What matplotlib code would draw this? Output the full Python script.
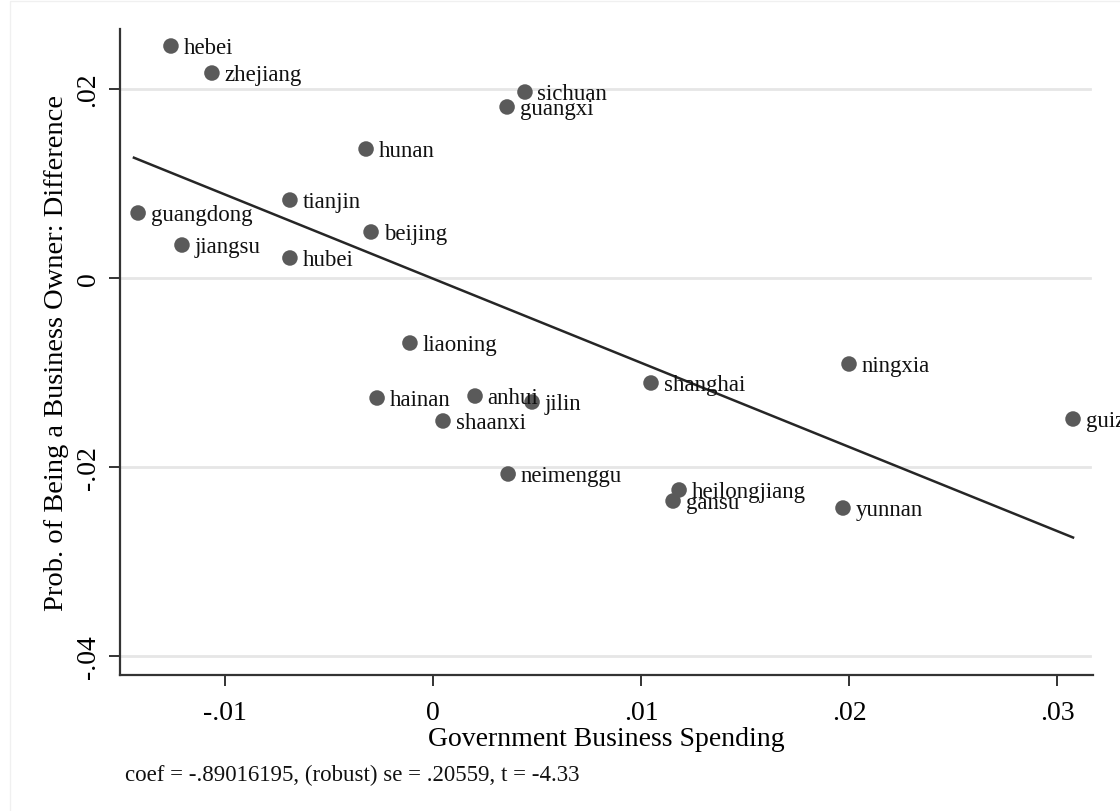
import matplotlib
matplotlib.use("Agg")
import matplotlib.pyplot as plt
import numpy as np
from matplotlib.patches import Rectangle

provinces = ["hebei", "zhejiang", "sichuan", "guangxi", "hunan", "tianjin", "guangdong",
             "beijing", "jiangsu", "hubei", "liaoning", "shanghai", "ningxia", "hainan",
             "anhui", "jilin", "shaanxi", "guizhou", "neimenggu", "heilongjiang", "gansu", "yunnan"]
spending = [-0.01260, -0.01063, 0.00442, 0.00356, -0.00322, -0.00688, -0.01418,
            -0.00298, -0.01207, -0.00688, -0.00111, 0.01048, 0.02000, -0.00269,
            0.00202, 0.00476, 0.00048, 0.03077, 0.00361, 0.01183, 0.01154, 0.01971]
owner_diff = [0.02455, 0.02169, 0.01968, 0.01810, 0.01365, 0.00825, 0.00688,
              0.00487, 0.00349, 0.00212, -0.00688, -0.01111, -0.00910, -0.01270,
              -0.01249, -0.01312, -0.01513, -0.01492, -0.02074, -0.02243, -0.02360, -0.02434]
coef = -0.89016195
intercept = -0.00007
x_ticks = [-0.01, 0, 0.01, 0.02, 0.03]
x_ticklabels = ["-.01", "0", ".01", ".02", ".03"]
y_ticks = [-0.04, -0.02, 0, 0.02]
y_ticklabels = ["-.04", "-.02", "0", ".02"]
note = "coef = -.89016195, (robust) se = .20559, t = -4.33"

plt.rcParams['font.family'] = ['Liberation Serif', 'DejaVu Serif']

fig = plt.figure(figsize=(11.2, 8.12), dpi=100)
fig.patches.append(Rectangle((0.009, -0.01), 1.0, 1.008, transform=fig.transFigure,
                             fill=False, edgecolor="#f0f0f0", linewidth=1.0))
ax = fig.add_axes([120/1120, 1 - 676/812, (1093-120)/1120, (676-30)/812])

x = np.array(spending)
y = np.array(owner_diff)

for t in y_ticks:
    ax.axhline(t, color="#e6e6e6", linewidth=2.0, zorder=0, xmax=0.997)

xl = np.array([x.min() - 0.0002, x.max()])
ax.plot(xl, intercept + coef * xl, color="#262626", linewidth=1.8, zorder=2)

ax.scatter(x, y, s=125, color="#5a5a5a", edgecolors="none", zorder=3)
for name, xi, yi in zip(provinces, x, y):
    ax.annotate(name, (xi, yi), xytext=(9, -1), textcoords="offset points",
                ha="left", va="center", fontsize=16.5, color="#111111",
                annotation_clip=False, zorder=4)

ax.set_xlim(-0.01505, 0.03173)
ax.set_ylim(-0.04201, 0.02635)
ax.set_xticks(x_ticks)
ax.set_xticklabels(x_ticklabels, fontsize=20)
ax.set_yticks(y_ticks)
ax.set_yticklabels(y_ticklabels, fontsize=20, rotation=90, va="center")
ax.tick_params(axis="both", direction="out", length=8, width=1.4, color="#333333", pad=6)
ax.tick_params(axis="x", pad=10)

for s in ["top", "right"]:
    ax.spines[s].set_visible(False)
for s in ["left", "bottom"]:
    ax.spines[s].set_linewidth(1.6)
    ax.spines[s].set_color("#333333")

ax.set_xlabel("Government Business Spending", fontsize=20, labelpad=1)
ax.set_ylabel("Prob. of Being a Business Owner: Difference", fontsize=20.5, labelpad=5)

fig.text(125/1120, 1 - 775/812, note, fontsize=16.5, ha="left", va="center", color="#111111")

fig.savefig("out.png", dpi=100)
